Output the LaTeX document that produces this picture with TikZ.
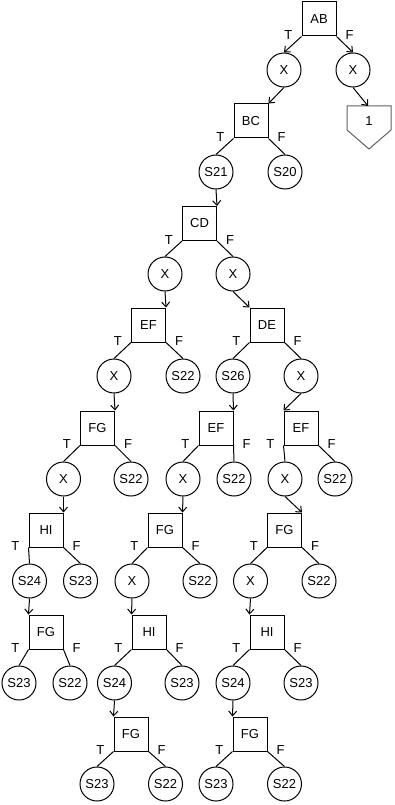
\documentclass[tikz,border=0pt]{standalone}
\usepackage{fontspec}
\setmainfont{Liberation Sans}
\usetikzlibrary{positioning,arrows.meta}
\begin{document}
\begin{tikzpicture}[x=0.75pt, y=-0.75pt, line width=0.75pt, font=\fontsize{9.75}{11}\selectfont,
  box/.style={draw, rectangle, minimum size=25.5pt, inner sep=0pt},
  state/.style={draw, circle, minimum size=25.5pt, inner sep=0pt},
  lbl/.style={inner sep=0pt},
  arr/.style={-{Straight Barb[length=3.5pt,width=6pt]}}]
  \useasboundingbox (0,0) rectangle (394,805);
  % the decision boxes
  \node[box] (ab)  at (319,19)    {AB};
  \node[box] (bc)  at (251,121)   {BC};
  \node[box] (cd)  at (199.5,223.5) {CD};
  \node[box] (ef1) at (148.5,325) {EF};
  \node[box] (de)  at (267,325)   {DE};
  \node[box] (fg1) at (97.5,428)  {FG};
  \node[box] (ef2) at (216,428)   {EF};
  \node[box] (ef3) at (301,428)   {EF};
  \node[box] (hi1) at (46,530)    {HI};
  \node[box] (fg2) at (165,530)   {FG};
  \node[box] (fg3) at (284.5,530) {FG};
  \node[box] (fg4) at (46,632)    {FG};
  \node[box] (hi2) at (149,632)   {HI};
  \node[box] (hi3) at (267,632)   {HI};
  \node[box] (fg5) at (131,734)   {FG};
  \node[box] (fg6) at (250,734)   {FG};
  % the circles
  \node[state] (x1)   at (284,70)    {X};
  \node[state] (x2)   at (353,70)    {X};
  \node[state] (s21)  at (216,172)   {S21};
  \node[state] (s20)  at (285,172)   {S20};
  \node[state] (x3)   at (165,274)   {X};
  \node[state] (x4)   at (233,274)   {X};
  \node[state] (x5)   at (114,376)   {X};
  \node[state] (s22a) at (183,376)   {S22};
  \node[state] (s26)  at (233,376)   {S26};
  \node[state] (x6)   at (301,376)   {X};
  \node[state] (x7)   at (63.5,479)  {X};
  \node[state] (s22b) at (131,479)   {S22};
  \node[state] (x8)   at (183,479)   {X};
  \node[state] (s22c) at (234,479)   {S22};
  \node[state] (x9)   at (285,479)   {X};
  \node[state] (s22d) at (335,479)   {S22};
  \node[state] (s24a) at (29.5,581)  {S24};
  \node[state] (s23a) at (80.5,581)  {S23};
  \node[state] (x10)  at (132,581)   {X};
  \node[state] (s22e) at (200,581)   {S22};
  \node[state] (x11)  at (250.5,581) {X};
  \node[state] (s22f) at (319,581)   {S22};
  \node[state] (s23b) at (19,683)    {S23};
  \node[state] (s22g) at (70,683)    {S22};
  \node[state] (s24b) at (114.5,683) {S24};
  \node[state] (s23c) at (182,683)   {S23};
  \node[state] (s24c) at (233,683)   {S24};
  \node[state] (s23d) at (301,683)   {S23};
  \node[state] (s23e) at (97,784)    {S23};
  \node[state] (s22h) at (165.5,784) {S22};
  \node[state] (s23f) at (216,784)   {S23};
  \node[state] (s22i) at (284.5,784) {S22};
  % the end box with the 1
  \draw[black!62] (347,106) -- (391,106) -- (391,130) -- (369,149) -- (347,130) -- cycle;
  \node (one) at (369,121) {1};
  \coordinate (onetop) at (368,106);
  % T and F beside every box
  \foreach \b in {ab,bc,cd,ef1,de,fg1,ef2,ef3,hi1,fg2,fg3,fg4,hi2,hi3,fg5,fg6} {
    \node[lbl, left=6.5pt of \b.south west, yshift=0.75pt] (\b-t) {T};
    \node[lbl, right=6.5pt of \b.south east, yshift=0.75pt] (\b-f) {F};
  }
  % the branches
  \draw[arr] (ab.south west) -- (x1.north);
  \draw[arr] (ab.south east) -- (x2.north);
  \foreach \b/\t/\f in {bc/s21/s20, cd/x3/x4, ef1/x5/s22a, de/s26/x6, fg1/x7/s22b,
      ef2/x8/s22c, ef3/x9/s22d, hi1/s24a/s23a, fg2/x10/s22e, fg3/x11/s22f,
      fg4/s23b/s22g, hi2/s24b/s23c, hi3/s24c/s23d, fg5/s23e/s22h, fg6/s23f/s22i} {
    \draw (\b.south west) -- (\t.north);
    \draw (\b.south east) -- (\f.north);
  }
  % from a circle down to the next box
  \foreach \a/\b in {x1/bc.north east, x2/onetop, s21/cd.north east, x3/ef1.north east,
      x4/de.north west, x5/fg1.north east, s26/ef2.north east, x6/ef3.north west,
      x7/hi1.north east, x8/fg2.north east, x9/fg3.north east, s24a/fg4.north west,
      x10/hi2.north west, x11/hi3.north west, s24b/fg5.north west, s24c/fg6.north west} {
    \draw[arr] (\a.south) -- (\b);
  }
\end{tikzpicture}
\end{document}
